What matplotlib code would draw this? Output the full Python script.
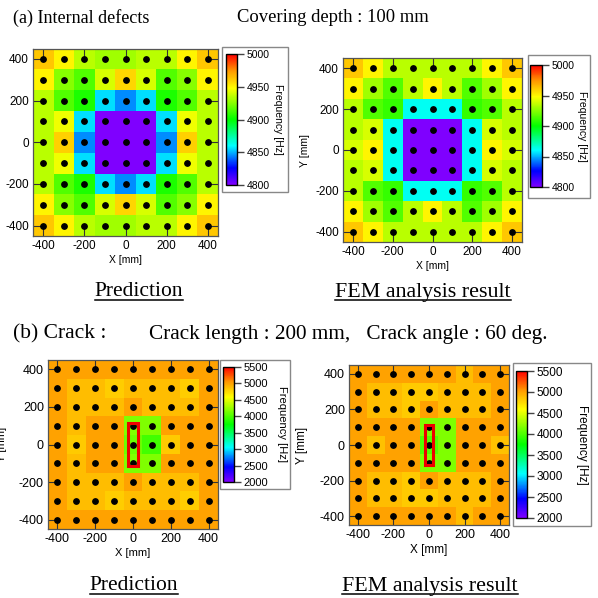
import matplotlib
matplotlib.use('Agg')
import matplotlib.pyplot as plt
import numpy as np
from matplotlib.colors import LinearSegmentedColormap, Normalize
from matplotlib.patches import Rectangle
from matplotlib.lines import Line2D

# grid positions [mm]
xs = [-400, -300, -200, -100, 0, 100, 200, 300, 400]
ys = [400, 300, 200, 100, 0, -100, -200, -300, -400]  # rows top -> bottom

# (a) internal defects, frequency [Hz]
pred_a = [
    [4962, 4950, 4935, 4930, 4930, 4935, 4935, 4950, 4962],
    [4950, 4925, 4915, 4940, 4958, 4940, 4915, 4925, 4950],
    [4935, 4915, 4905, 4856, 4845, 4856, 4905, 4915, 4935],
    [4935, 4945, 4856, 4790, 4790, 4790, 4856, 4945, 4935],
    [4935, 4960, 4845, 4790, 4790, 4790, 4845, 4960, 4935],
    [4935, 4945, 4856, 4790, 4790, 4790, 4856, 4945, 4935],
    [4935, 4915, 4905, 4856, 4845, 4856, 4905, 4915, 4935],
    [4950, 4925, 4915, 4940, 4958, 4940, 4915, 4925, 4950],
    [4962, 4950, 4935, 4930, 4930, 4935, 4935, 4950, 4962],
]
fem_a = [
    [4962, 4950, 4935, 4935, 4935, 4935, 4935, 4950, 4962],
    [4950, 4930, 4915, 4935, 4950, 4935, 4915, 4930, 4950],
    [4935, 4915, 4910, 4862, 4862, 4862, 4910, 4915, 4935],
    [4935, 4940, 4862, 4790, 4790, 4790, 4862, 4940, 4935],
    [4940, 4950, 4862, 4790, 4790, 4790, 4862, 4950, 4940],
    [4935, 4940, 4862, 4790, 4790, 4790, 4862, 4940, 4935],
    [4935, 4915, 4910, 4862, 4862, 4862, 4910, 4915, 4935],
    [4950, 4930, 4915, 4935, 4950, 4935, 4915, 4930, 4950],
    [4962, 4950, 4935, 4935, 4935, 4935, 4935, 4950, 4962],
]

# (b) crack, frequency [Hz]
pred_b = [
    [5000, 5000, 5000, 5000, 5000, 5000, 5000, 5000, 5000],
    [5000, 4880, 4880, 4810, 4880, 4880, 4880, 4810, 5000],
    [5000, 4880, 4880, 4880, 5000, 4880, 4880, 4880, 5000],
    [5000, 4880, 5000, 5000, 4170, 4170, 5000, 5000, 5000],
    [5000, 4830, 5000, 5000, 4100, 3960, 4830, 5000, 5000],
    [5000, 4880, 5000, 5000, 4170, 4170, 5000, 5000, 5000],
    [5000, 4880, 4880, 4880, 5000, 4880, 4880, 4880, 5000],
    [5000, 4880, 4880, 4810, 4880, 4880, 4880, 4810, 5000],
    [5000, 5000, 5000, 5000, 5000, 5000, 5000, 5000, 5000],
]
fem_b = [
    [5000, 5000, 5000, 5000, 5000, 5000, 4880, 5000, 5000],
    [5000, 4880, 4880, 4820, 4820, 4880, 4880, 4880, 5000],
    [5000, 4880, 4880, 4820, 5000, 4880, 4880, 4880, 5000],
    [5000, 5000, 5000, 5000, 4170, 4170, 5000, 5000, 5000],
    [5000, 4860, 5000, 5000, 4020, 4170, 5000, 5000, 4860],
    [5000, 5000, 5000, 5000, 4170, 4170, 5000, 5000, 5000],
    [5000, 4880, 4880, 4820, 5000, 4880, 4880, 4880, 5000],
    [5000, 4880, 4880, 4820, 4820, 4880, 4880, 4880, 5000],
    [5000, 5000, 5000, 5000, 5000, 5000, 4880, 5000, 5000],
]

ticks_a = [4800, 4850, 4900, 4950, 5000]
ticks_b = [2000, 2500, 3000, 3500, 4000, 4500, 5000, 5500]
crack = (-25, -115, 50, 230)  # x, y, w, h [mm]

cmap = LinearSegmentedColormap.from_list('freq', [
    (0.0, '#7f00ff'), (0.13, '#0000ff'), (0.3, '#00ffff'), (0.5, '#00ff00'),
    (0.74, '#ffff00'), (0.87, '#ff9900'), (1.0, '#ff0000')])

W = H = 598.0
fig = plt.figure(figsize=(5.98, 5.98), dpi=100)
plt.rcParams['font.family'] = ['Liberation Sans', 'DejaVu Sans']
plt.rcParams['axes.unicode_minus'] = False


def px(l, t, r, b):
    # pixel box (from top-left) -> figure fraction rect
    return [l / W, 1 - b / H, (r - l) / W, (b - t) / H]


def panel(ax_box, cb_box, frame_box, data, norm, ticks, fs, cfs, lab_fs,
          ylab_x, flab_x, crack_box=None):
    ax = fig.add_axes(px(*ax_box))
    ax.pcolormesh(xs, ys, np.array(data), cmap=cmap, norm=norm, shading='nearest')
    X, Y = np.meshgrid(xs, ys)
    ax.scatter(X.ravel(), Y.ravel(), s=15, color='black', zorder=3)
    if crack_box is not None:
        ax.add_patch(Rectangle(crack_box[:2], crack_box[2], crack_box[3],
                               fill=False, edgecolor='#ee0000', lw=2.2, zorder=4))
    ax.set_xlim(-450, 450)
    ax.set_ylim(-450, 450)
    ax.set_xticks([-400, -200, 0, 200, 400])
    ax.set_yticks([-400, -200, 0, 200, 400])
    ax.tick_params(direction='in', length=8, width=0.8, color='#333333',
                   labelsize=fs, pad=3, top=True, right=True)
    for s in ax.spines.values():
        s.set_color('#555555')
        s.set_linewidth(0.9)
    ax.set_xlabel('X [mm]', fontsize=lab_fs, labelpad=2)
    cy = (ax_box[1] + ax_box[3]) / 2
    fig.text(ylab_x / W, 1 - cy / H, 'Y [mm]', rotation=90, fontsize=lab_fs,
             ha='center', va='center')

    # grey frame around the colour bar
    l, t, r, b = frame_box
    fig.add_artist(Rectangle((l / W, 1 - b / H), (r - l) / W, (b - t) / H,
                             transform=fig.transFigure, fill=False,
                             edgecolor='#888888', lw=1.0))
    cax = fig.add_axes(px(*cb_box))
    cb = fig.colorbar(plt.cm.ScalarMappable(norm=norm, cmap=cmap), cax=cax,
                      ticks=ticks)
    cb.outline.set_linewidth(1.0)
    cax.tick_params(labelsize=cfs, length=5, width=1.0, color='#444444', pad=2)
    ccy = (cb_box[1] + cb_box[3]) / 2
    fig.text(flab_x / W, 1 - ccy / H, 'Frequency [Hz]', rotation=270,
             fontsize=lab_fs, ha='center', va='center')
    return ax


norm_a = Normalize(4800, 5000)
norm_b = Normalize(2000, 5500)

panel((33, 48.5, 218, 236), (226, 54, 237, 185), (222, 47, 288, 192),
      pred_a, norm_a, ticks_a, 8.5, 7.5, 7.5, -4, 278)
panel((343, 58, 522, 242), (530, 65, 542, 187), (528, 55, 590, 198),
      fem_a, norm_a, ticks_a, 8.5, 7.5, 7.5, 305, 582)
panel((48, 360, 218, 529), (223, 367, 234, 482), (220, 360, 290, 489),
      pred_b, norm_b, ticks_b, 9, 8, 8, 2, 282, crack)
panel((349, 365, 509, 525), (516, 371, 527, 518), (513, 363, 591, 526),
      fem_b, norm_b, ticks_b, 9, 8.5, 8.5, 302, 582, crack)

# captions (serif)
serif = ['Liberation Serif', 'DejaVu Serif']
fig.text(13 / W, 1 - 18 / H, '(a) Internal defects', family=serif, fontsize=13,
         va='center', ha='left')
fig.text(237 / W, 1 - 18 / H, 'Covering depth : 100 mm', family=serif,
         fontsize=13.4, va='center', ha='left')
fig.text(13 / W, 1 - 334 / H, '(b) Crack :', family=serif, fontsize=15.5,
         va='center', ha='left')
fig.text(149 / W, 1 - 334 / H, 'Crack length : 200 mm,   Crack angle : 60 deg.',
         family=serif, fontsize=15.3, va='center', ha='left')

subs = [
    fig.text(139 / W, 1 - 292 / H, 'Prediction', family=serif, fontsize=15.5,
             ha='center', va='center'),
    fig.text(423 / W, 1 - 292 / H, 'FEM analysis result', family=serif,
             fontsize=15.8, ha='center', va='center'),
    fig.text(134 / W, 1 - 586 / H, 'Prediction', family=serif, fontsize=15.5,
             ha='center', va='center'),
    fig.text(430 / W, 1 - 586 / H, 'FEM analysis result', family=serif,
             fontsize=15.8, ha='center', va='center'),
]

# underline the sub captions
fig.canvas.draw()
r = fig.canvas.get_renderer()
for t in subs:
    bb = t.get_window_extent(renderer=r)
    y = (bb.y0 + 1.5) / fig.bbox.height
    fig.add_artist(Line2D([bb.x0 / fig.bbox.width, bb.x1 / fig.bbox.width],
                          [y, y], transform=fig.transFigure, color='black', lw=1.1))

fig.savefig('out.png', dpi=100)
